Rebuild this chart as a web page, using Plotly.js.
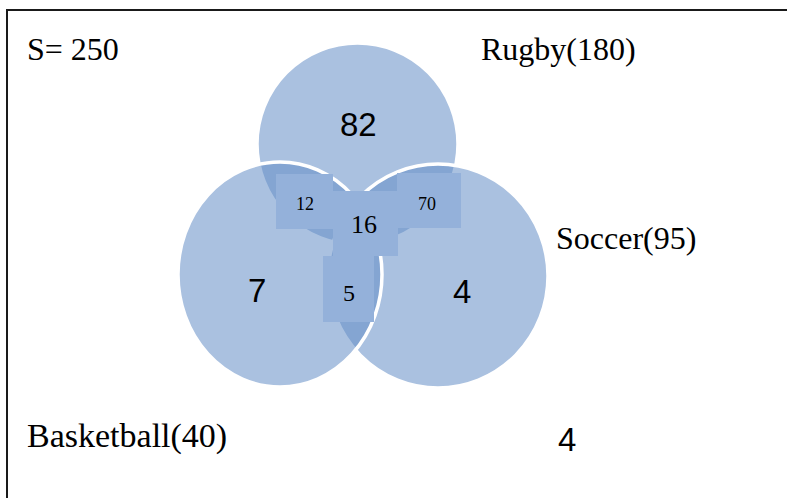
<!DOCTYPE html>
<html>
<head>
<meta charset="utf-8">
<script src="https://cdn.plot.ly/plotly-3.0.1.min.js"></script>
<style>
  html, body { margin: 0; padding: 0; background: #ffffff; }
  #chart { width: 787px; height: 498px; }
</style>
</head>
<body>
<div id="chart"></div>
<script>
// ---- data ----
const universeLabel = 'S';
const universeTotal = 250;
const setNames = ['Rugby', 'Soccer', 'Basketball'];
const setTotals = [180, 95, 40];
const regionNames = ['Rugby only', 'Rugby & Basketball', 'All three', 'Rugby & Soccer',
                     'Basketball only', 'Basketball & Soccer', 'Soccer only', 'None'];
const regionCounts = [82, 12, 16, 70, 7, 5, 4, 4];

// ---- layout (pixel-like coordinate system) ----
const W = 787, H = 498;
const circleFill = 'rgba(100,142,198,0.55)';
const boxFill = 'rgb(148,177,218)';

// ellipses: [x0, y0, x1, y1] for Rugby, Soccer, Basketball (drawn in that order)
const setGeom = [
  [257, 43, 458, 245],
  [328, 164, 548, 388],
  [178, 162, 382, 387]
];
// text boxes covering intersections: [x0,y0,x1,y1]
const boxGeom = {
  'Rugby & Basketball': [276, 174, 333, 229],
  'Rugby & Soccer': [397, 173, 461, 228],
  'All three': [333, 191, 398, 256],
  'Basketball & Soccer': [323, 256, 374, 322]
};
// label positions and fonts for region counts
const regionPos = [
  {x: 358, y: 124, size: 33, fam: 'Liberation Sans'},
  {x: 304.5, y: 203.5, size: 18, fam: 'Liberation Serif'},
  {x: 364, y: 224, size: 26, fam: 'Liberation Serif'},
  {x: 427, y: 204, size: 18, fam: 'Liberation Serif'},
  {x: 257, y: 290, size: 33, fam: 'Liberation Sans'},
  {x: 348.5, y: 293, size: 24, fam: 'Liberation Serif'},
  {x: 462, y: 291, size: 33, fam: 'Liberation Sans'},
  {x: 567, y: 439, size: 33, fam: 'Liberation Sans'}
];
const setLabelPos = [
  {x: 479, y: 49, size: 32},
  {x: 554, y: 238, size: 32},
  {x: 25, y: 436, size: 34}
];

const shapes = [];
setGeom.forEach(g => {
  shapes.push({type: 'circle', xref: 'x', yref: 'y', x0: g[0], y0: g[1], x1: g[2], y1: g[3],
    fillcolor: circleFill, line: {color: '#ffffff', width: 3.5}, layer: 'above'});
});
Object.keys(boxGeom).forEach(k => {
  const g = boxGeom[k];
  shapes.push({type: 'rect', xref: 'x', yref: 'y', x0: g[0], y0: g[1], x1: g[2], y1: g[3],
    fillcolor: boxFill, line: {width: 0}, layer: 'above'});
});
// frame (only top and left edges fall inside the page)
shapes.push({type: 'rect', xref: 'x', yref: 'y', x0: 7, y0: 10, x1: 820, y1: 530,
  fillcolor: 'rgba(0,0,0,0)', line: {color: '#1a1a1a', width: 2}, layer: 'above'});

const annotations = [];
annotations.push({xref: 'x', yref: 'y', x: 25, y: 49, xanchor: 'left', yanchor: 'middle',
  text: universeLabel + '= ' + universeTotal, showarrow: false,
  font: {family: 'Liberation Serif', size: 32, color: '#000'}});
setNames.forEach((n, i) => {
  annotations.push({xref: 'x', yref: 'y', x: setLabelPos[i].x, y: setLabelPos[i].y,
    xanchor: 'left', yanchor: 'middle', text: n + '(' + setTotals[i] + ')', showarrow: false,
    font: {family: 'Liberation Serif', size: setLabelPos[i].size, color: '#000'}});
});
regionCounts.forEach((v, i) => {
  const p = regionPos[i];
  annotations.push({xref: 'x', yref: 'y', x: p.x, y: p.y, xanchor: 'center', yanchor: 'middle',
    text: String(v), showarrow: false, font: {family: p.fam, size: p.size, color: '#000'}});
});

const layout = {
  width: W, height: H,
  margin: {l: 0, r: 0, t: 0, b: 0, pad: 0},
  paper_bgcolor: '#ffffff', plot_bgcolor: '#ffffff',
  xaxis: {range: [0, W], visible: false, fixedrange: true},
  yaxis: {range: [H, 0], visible: false, fixedrange: true},
  showlegend: false,
  shapes: shapes,
  annotations: annotations
};

Plotly.newPlot('chart', [{type: 'scatter', x: [], y: [], mode: 'markers', hoverinfo: 'skip'}], layout,
  {displayModeBar: false, staticPlot: true});
</script>
</body>
</html>
